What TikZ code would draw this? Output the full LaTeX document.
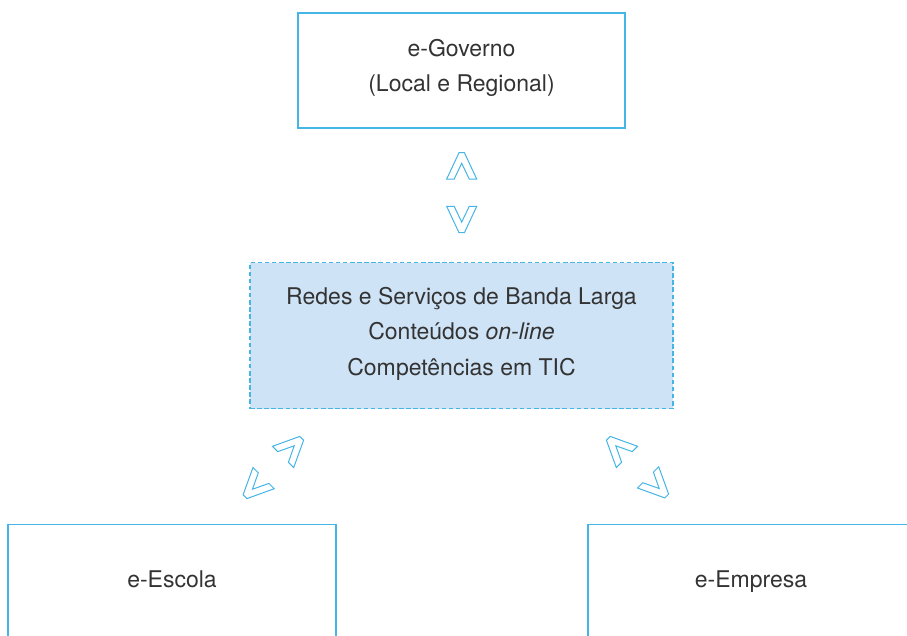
\documentclass[tikz,border=0pt]{standalone}
\usepackage{fontspec}
\setmainfont{TeX Gyre Heros}
\definecolor{lineblue}{HTML}{45B5E6}
\definecolor{fillblue}{HTML}{CFE3F6}
\definecolor{txtgray}{HTML}{333333}
\begin{document}
\begin{tikzpicture}[x=1pt,y=-1pt,
  box/.style={draw=lineblue, line width=1.2pt, rectangle, inner sep=0pt},
  txt/.style={text=txtgray, font=\fontsize{23}{35.5}\selectfont, align=center},
  dashbox/.style={box, fill=fillblue, line width=1.1pt, dash pattern=on 4.5pt off 2.6pt},
  chev/.pic={\draw[lineblue, line width=1pt, line join=miter, fill=white]
    (-15,26.3) -- (-2.7,0) -- (2.7,0) -- (15,26.3) -- (7.5,26.3) -- (0,10.6) -- (-7.5,26.3) -- cycle;}]
\useasboundingbox (0,0) rectangle (907,635);
\clip (0,0) rectangle (907,635);
\node[box, minimum width=327pt, minimum height=115pt] (gov) at (461.5,70.5) {};
\node[txt] (govtxt) at (461.5,67.8) {e-Governo\\(Local e Regional)};
\node[dashbox, minimum width=423pt, minimum height=146pt] (core) at (461.5,335.5) {};
\node[txt] (coretxt) at (461.5,333.5)
  {Redes e Serviços de Banda Larga\\Conteúdos \textit{on-line}\\Competências em TIC};
\node[box, minimum width=328pt, minimum height=150pt, anchor=north] (escola) at (172,524) {};
\node[txt, anchor=base] (escolatxt) at (172,587) {e-Escola};
\node[box, minimum width=328pt, minimum height=150pt, anchor=north] (empresa) at (752,524) {};
\node[txt, anchor=base] (empresatxt) at (751,587) {e-Empresa};
\pic at (461.7,152.7) {chev};
\pic[rotate=180] at (461.7,232.7) {chev};
\pic[rotate=-45] at (301.7,438.3) {chev};
\pic[rotate=135] at (245,496.7) {chev};
\pic[rotate=45] at (608.3,438.3) {chev};
\pic[rotate=-135] at (666.7,496) {chev};
\end{tikzpicture}
\end{document}
